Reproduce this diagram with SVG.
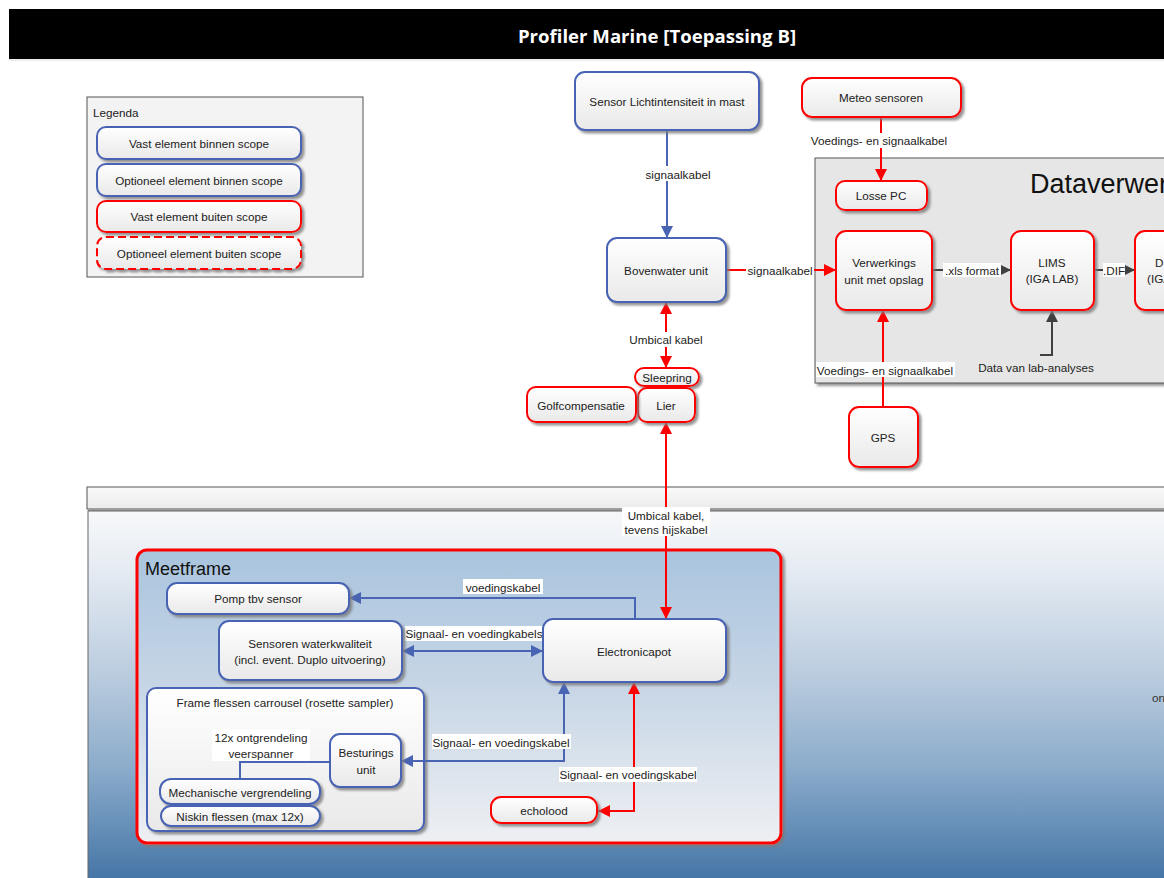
<svg xmlns="http://www.w3.org/2000/svg" width="1164" height="878" viewBox="0 0 1164 878">
  <defs>
    <linearGradient id="nodeFill" x1="0" y1="0" x2="0" y2="1">
      <stop offset="0" stop-color="#ffffff"/>
      <stop offset="1" stop-color="#e9e9e9"/>
    </linearGradient>
    <linearGradient id="waterFill" x1="0" y1="0" x2="0" y2="1">
      <stop offset="0" stop-color="#f7f8fa"/>
      <stop offset="0.15" stop-color="#e6ecf3"/>
      <stop offset="0.45" stop-color="#b9cbde"/>
      <stop offset="0.7" stop-color="#8aabca"/>
      <stop offset="1" stop-color="#4474a6"/>
    </linearGradient>
    <linearGradient id="frameFill" x1="0" y1="0" x2="0" y2="1">
      <stop offset="0" stop-color="#a9c4de"/>
      <stop offset="0.5" stop-color="#c9d7e6"/>
      <stop offset="1" stop-color="#eef0f3"/>
    </linearGradient>
    <linearGradient id="stripFill" x1="0" y1="0" x2="0" y2="1">
      <stop offset="0" stop-color="#fafafa"/>
      <stop offset="1" stop-color="#ebebeb"/>
    </linearGradient>
    <filter id="shadow" x="-10%" y="-10%" width="130%" height="140%">
      <feDropShadow dx="2.5" dy="2.5" stdDeviation="0.8" flood-color="#7a7a7a" flood-opacity="0.8"/>
    </filter>
    <marker id="arrBlue" viewBox="0 0 10 10" refX="10" refY="5" markerWidth="12" markerHeight="12" markerUnits="userSpaceOnUse" orient="auto-start-reverse">
      <path d="M0,0 L10,5 L0,10 z" fill="#4a64b4"/>
    </marker>
    <marker id="arrRed" viewBox="0 0 10 10" refX="10" refY="5" markerWidth="12" markerHeight="12" markerUnits="userSpaceOnUse" orient="auto-start-reverse">
      <path d="M0,0 L10,5 L0,10 z" fill="#ff0000"/>
    </marker>
    <marker id="arrGray" viewBox="0 0 10 10" refX="10" refY="5" markerWidth="12" markerHeight="12" markerUnits="userSpaceOnUse" orient="auto-start-reverse">
      <path d="M0,0 L10,5 L0,10 z" fill="#404040"/>
    </marker>
    <style>
      text { font-family: "Liberation Sans", Arial, sans-serif; font-size: 11.7px; fill: #222; }
      .c { text-anchor: middle; dominant-baseline: central; }
      .blue { fill: url(#nodeFill); stroke: #4a64b4; stroke-width: 2; filter: url(#shadow); }
      .red { fill: url(#nodeFill); stroke: #ff0000; stroke-width: 2; filter: url(#shadow); }
      .redDash { fill: url(#nodeFill); stroke: #ff0000; stroke-width: 2; stroke-dasharray: 8 4; filter: url(#shadow); }
      .lb { fill: #ffffff; }
      .cb { fill: none; stroke: #4a64b4; stroke-width: 2; }
      .cr { fill: none; stroke: #ff0000; stroke-width: 2; }
      .cg { fill: none; stroke: #404040; stroke-width: 2; }
    </style>
  </defs>

  <rect width="1164" height="878" fill="#ffffff"/>

  <!-- Title bar -->
  <g id="title">
    <rect x="9" y="9" width="1160" height="50" fill="#000000"/>
    <line x1="9" y1="60" x2="1164" y2="60" stroke="#dcdcdc" stroke-width="1"/>
    <text x="657" y="35" class="c" style="fill:#ffffff;font-family:'Open Sans','Liberation Sans',sans-serif;font-weight:bold;font-size:18.6px">Profiler Marine [Toepassing B]</text>
  </g>

  <!-- Legend -->
  <g id="legend">
    <rect x="87" y="97" width="276" height="180" fill="#f3f3f3" stroke="#555" stroke-width="1"/>
    <text x="93" y="112" style="dominant-baseline:central">Legenda</text>
    <rect x="97" y="127" width="204" height="32" rx="9" class="blue"/>
    <text x="199" y="143" class="c">Vast element binnen scope</text>
    <rect x="97" y="164" width="204" height="32" rx="9" class="blue"/>
    <text x="199" y="180" class="c">Optioneel element binnen scope</text>
    <rect x="97" y="201" width="204" height="31" rx="9" class="red"/>
    <text x="199" y="216" class="c">Vast element buiten scope</text>
    <rect x="97" y="237" width="204" height="32" rx="9" class="redDash"/>
    <text x="199" y="253" class="c">Optioneel element buiten scope</text>
  </g>

  <!-- Data processing panel -->
  <g id="dataverwerking">
    <rect x="815" y="158" width="360" height="225" fill="#e6e6e6" stroke="#555" stroke-width="1" filter="url(#shadow)"/>
    <text x="1030" y="184" style="font-size:27px;dominant-baseline:central;fill:#111">Dataverwerking</text>
  </g>

  <!-- Sea section -->
  <g id="zee">
    <rect x="87" y="487" width="1090" height="22" fill="url(#stripFill)" stroke="#555" stroke-width="1"/>
    <line x1="88" y1="510" x2="1164" y2="510" stroke="#9a9a9a" stroke-width="2"/>
    <rect x="88" y="511" width="1080" height="370" fill="url(#waterFill)" stroke="#666" stroke-width="1"/>
    <text x="1152" y="697" style="dominant-baseline:central;fill:#333">on</text>
  </g>

  <!-- Measuring frame container -->
  <g id="meetframe">
    <rect x="137" y="550" width="644" height="293" rx="10" fill="url(#frameFill)" stroke="#ff0000" stroke-width="3" filter="url(#shadow)"/>
    <text x="145" y="569" style="font-size:18px;dominant-baseline:central;fill:#111">Meetframe</text>
  </g>

  <g id="carrousel">
    <rect x="147" y="688" width="277" height="143" rx="9" class="blue"/>
    <text x="285" y="702" class="c">Frame flessen carrousel (rosette sampler)</text>
  </g>

  <!-- Connectors -->
  <g id="connectors">
    <path class="cb" d="M667,130 V238" marker-end="url(#arrBlue)"/>
    <path class="cr" d="M726,270 H836" marker-end="url(#arrRed)"/>
    <path class="cr" d="M881,117 V181" marker-end="url(#arrRed)"/>
    <path class="cg" d="M932,270 H1011" marker-end="url(#arrGray)"/>
    <path class="cg" d="M1094,270 H1135" marker-end="url(#arrGray)"/>
    <path class="cg" d="M1040,355 H1052 V310" marker-end="url(#arrGray)"/>
    <path class="cr" d="M883,407 V310" marker-end="url(#arrRed)"/>
    <path class="cr" d="M666,302 V368" marker-start="url(#arrRed)" marker-end="url(#arrRed)"/>
    <path class="cr" d="M666,422 V619" marker-start="url(#arrRed)" marker-end="url(#arrRed)"/>
    <path class="cb" d="M635,619 V598 H349" marker-end="url(#arrBlue)"/>
    <path class="cb" d="M402,651 H543" marker-start="url(#arrBlue)" marker-end="url(#arrBlue)"/>
    <path class="cb" d="M564,682 V761 H401" marker-start="url(#arrBlue)" marker-end="url(#arrBlue)"/>
    <path class="cb" d="M330,762 H240 V779"/>
    <path class="cr" d="M634,682 V811 H598" marker-start="url(#arrRed)" marker-end="url(#arrRed)"/>

    <!-- connector labels -->
    <rect class="lb" x="643" y="166" width="70" height="15"/>
    <text x="678" y="174" class="c">signaalkabel</text>
    <rect class="lb" x="746" y="263" width="68" height="14"/>
    <text x="780" y="270" class="c">signaalkabel</text>
    <rect class="lb" x="810" y="133" width="139" height="15"/>
    <text x="879" y="140" class="c">Voedings- en signaalkabel</text>
    <rect class="lb" x="943" y="263" width="58" height="14"/>
    <text x="972" y="270" class="c">.xls format</text>
    <rect class="lb" x="1103" y="263" width="22" height="14"/>
    <text x="1114" y="270" class="c">.DIF</text>
    <text x="1036" y="367" class="c">Data van lab-analyses</text>
    <rect class="lb" x="816" y="362" width="139" height="15"/>
    <text x="885" y="370" class="c">Voedings- en signaalkabel</text>
    <rect class="lb" x="626" y="332" width="80" height="15"/>
    <text x="666" y="339" class="c">Umbical kabel</text>
    <rect class="lb" x="622" y="507" width="88" height="29"/>
    <text x="666" y="515" class="c">Umbical kabel,</text>
    <text x="666" y="529" class="c">tevens hijskabel</text>
    <rect class="lb" x="463" y="579" width="80" height="15"/>
    <text x="503" y="587" class="c">voedingskabel</text>
    <rect class="lb" x="405" y="626" width="138" height="15"/>
    <text x="474" y="633" class="c">Signaal- en voedingkabels</text>
    <rect class="lb" x="432" y="734" width="139" height="15"/>
    <text x="501" y="742" class="c">Signaal- en voedingskabel</text>
    <rect class="lb" x="559" y="767" width="138" height="15"/>
    <text x="628" y="774" class="c">Signaal- en voedingskabel</text>
    <rect class="lb" x="212" y="729" width="98" height="32"/>
    <text x="261" y="737" class="c">12x ontgrendeling</text>
    <text x="261" y="753" class="c">veerspanner</text>
  </g>

  <!-- Nodes above water -->
  <g id="sensor-licht">
    <rect x="575" y="72" width="184" height="58" rx="10" class="blue"/>
    <text x="667" y="101" class="c">Sensor Lichtintensiteit in mast</text>
  </g>
  <g id="bovenwater">
    <rect x="607" y="238" width="119" height="64" rx="10" class="blue"/>
    <text x="666" y="270" class="c">Bovenwater unit</text>
  </g>
  <g id="meteo">
    <rect x="802" y="78" width="159" height="39" rx="10" class="red"/>
    <text x="881" y="97" class="c">Meteo sensoren</text>
  </g>
  <g id="losse-pc">
    <rect x="836" y="181" width="91" height="29" rx="9" class="red"/>
    <text x="881" y="195" class="c">Losse PC</text>
  </g>
  <g id="verwerkings-unit">
    <rect x="836" y="231" width="96" height="79" rx="10" class="red"/>
    <text x="884" y="262" class="c">Verwerkings</text>
    <text x="884" y="279" class="c">unit met opslag</text>
  </g>
  <g id="lims">
    <rect x="1011" y="231" width="83" height="79" rx="10" class="red"/>
    <text x="1052" y="262" class="c">LIMS</text>
    <text x="1052" y="278" class="c">(IGA LAB)</text>
  </g>
  <g id="dwh">
    <rect x="1135" y="231" width="83" height="79" rx="10" class="red"/>
    <text x="1155" y="262" style="dominant-baseline:central">D</text>
    <text x="1147" y="278" style="dominant-baseline:central">(IGA</text>
  </g>
  <g id="gps">
    <rect x="849" y="407" width="69" height="60" rx="10" class="red"/>
    <text x="883" y="437" class="c">GPS</text>
  </g>
  <g id="sleepring">
    <rect x="635" y="368" width="64" height="18" rx="9" class="red"/>
    <text x="667" y="377" class="c">Sleepring</text>
  </g>
  <g id="lier">
    <rect x="638" y="388" width="57" height="34" rx="9" class="red"/>
    <text x="666" y="405" class="c">Lier</text>
  </g>
  <g id="golfcompensatie">
    <rect x="527" y="387" width="109" height="35" rx="9" class="red"/>
    <text x="581" y="405" class="c">Golfcompensatie</text>
  </g>

  <!-- Nodes inside the measuring frame -->
  <g id="pomp">
    <rect x="167" y="583" width="182" height="31" rx="10" class="blue"/>
    <text x="258" y="598" class="c">Pomp tbv sensor</text>
  </g>
  <g id="sensoren-waterkwaliteit">
    <rect x="219" y="621" width="183" height="59" rx="10" class="blue"/>
    <text x="310" y="643" class="c">Sensoren waterkwaliteit</text>
    <text x="310" y="659" class="c">(incl. event. Duplo uitvoering)</text>
  </g>
  <g id="electronicapot">
    <rect x="543" y="619" width="183" height="63" rx="10" class="blue"/>
    <text x="634" y="651" class="c">Electronicapot</text>
  </g>
  <g id="besturings-unit">
    <rect x="330" y="734" width="71" height="53" rx="10" class="blue"/>
    <text x="366" y="752" class="c">Besturings</text>
    <text x="366" y="769" class="c">unit</text>
  </g>
  <g id="mechanische-vergrendeling">
    <rect x="160" y="779" width="160" height="25" rx="11" class="blue"/>
    <text x="240" y="792" class="c">Mechanische vergrendeling</text>
  </g>
  <g id="niskin-flessen">
    <rect x="161" y="806" width="159" height="20" rx="10" class="blue"/>
    <text x="240" y="816" class="c">Niskin flessen (max 12x)</text>
  </g>
  <g id="echolood">
    <rect x="491" y="797" width="106" height="26" rx="10" class="red"/>
    <text x="544" y="810" class="c">echolood</text>
  </g>
</svg>
